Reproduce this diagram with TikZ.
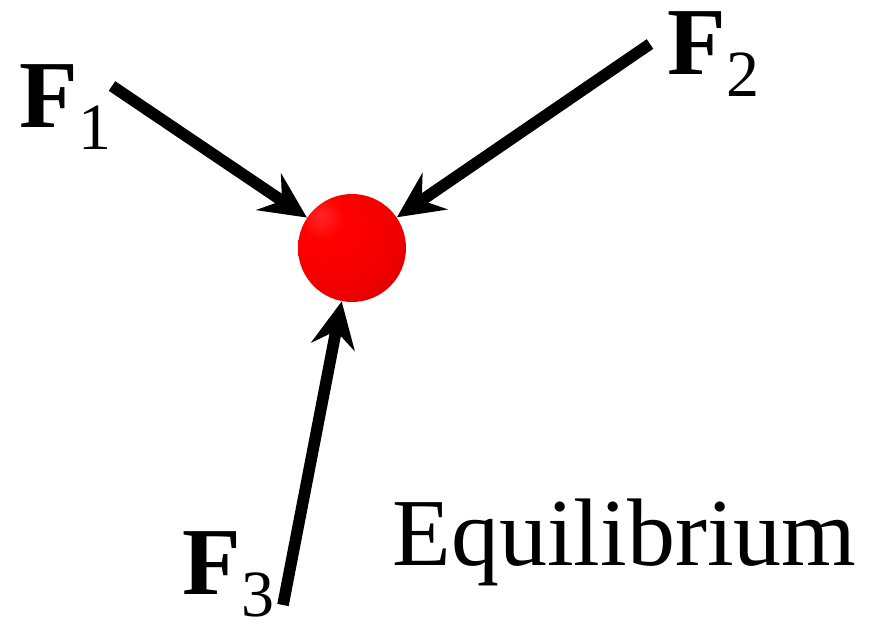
\documentclass[tikz,border=0pt]{standalone}
\usepackage{fontspec}
\setmainfont{Liberation Serif}
\usetikzlibrary{arrows.meta}
\pgfdeclareradialshading{redball}{\pgfpoint{-15bp}{15bp}}{%
  color(0bp)=(red!85!white);
  color(10bp)=(red);
  color(32bp)=(red!94!black);
  color(55bp)=(red!72!black);
  color(72bp)=(red!45!black);
  color(100bp)=(red!45!black)}
\newcommand\forcelab[1]{\textbf{F}\raisebox{-11pt}{\fontsize{33}{33}\selectfont #1}}
\begin{document}
\begin{tikzpicture}[x=0.5pt,y=-0.5pt,
  lab/.style={inner sep=0pt, anchor=base west, font=\fontsize{48}{50}\selectfont},
  force/.style={line width=5.8pt, -{Stealth[length=23pt,width=22pt,inset=8pt]}}]
\useasboundingbox (0,0) rectangle (869,626);
\node[circle, minimum size=54pt, inner sep=0pt, shading=redball] (ball) at (352,248) {};
\node[lab] (f1) at (19,128) {\forcelab{1}};
\node[lab] (f2) at (667,75) {\forcelab{2}};
\node[lab] (f3) at (182,594) {\forcelab{3}};
\node[lab] (eq) at (392,565) {Equilibrium};
\coordinate (s1) at (112,86);
\coordinate (s2) at (650,44);
\coordinate (s3) at (283,605);
\draw[force] (s1) -- (ball);
\draw[force] (s2) -- (ball);
\draw[force] (s3) -- (ball);
\end{tikzpicture}
\end{document}
